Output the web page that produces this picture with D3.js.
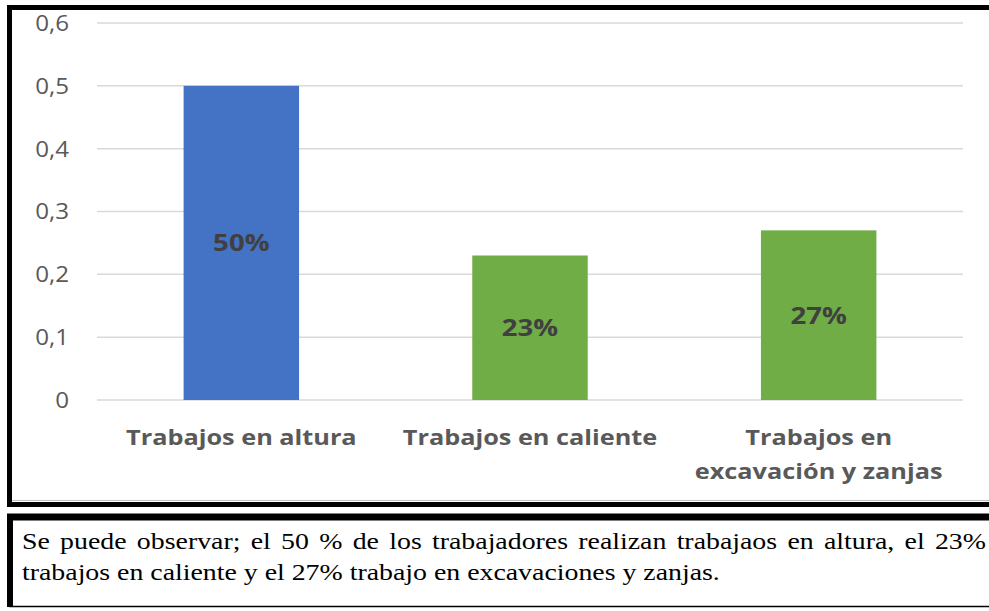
<!DOCTYPE html>
<html><head><meta charset="utf-8">
<script src="https://cdn.jsdelivr.net/npm/d3@7"></script>
<style>body{margin:0;background:#fff;overflow:hidden}svg{display:block}
.note{font-family:"Liberation Serif","Times New Roman","DejaVu Serif",serif;font-size:24px;fill:#000}</style>
</head><body>
<script>
const categories = [["Trabajos en altura"], ["Trabajos en caliente"], ["Trabajos en", "excavación y zanjas"]];
const values = [0.5, 0.23, 0.27];
const labels = ["50%", "23%", "27%"];
const colors = ["#4472C4", "#70AD47", "#70AD47"];
const yTicks = [0, 0.1, 0.2, 0.3, 0.4, 0.5, 0.6];
const note = ["Se puede observar; el 50 % de los trabajadores realizan trabajaos en altura, el 23%",
              "trabajos en caliente y el 27% trabajo en excavaciones y zanjas."];

const W = 989, H = 611;
const SX = 1.15; // horizontal stretch of the reference picture
const svg = d3.select("body").append("svg").attr("width", W).attr("height", H);

// chart frame
svg.append("rect").attr("x", 9.5).attr("y", 7.5).attr("width", 1000).attr("height", 497)
  .attr("fill", "none").attr("stroke", "#000").attr("stroke-width", 5);
svg.append("line").attr("x1", 12).attr("x2", 1000).attr("y1", 500.5).attr("y2", 500.5).attr("stroke", "#bfbfbf").attr("stroke-width", 1);
// text frame
svg.append("rect").attr("x", 10).attr("y", 516.5).attr("width", 1000).attr("height", 90)
  .attr("fill", "none").attr("stroke", "#000").attr("stroke-width", 1.5);
svg.append("line").attr("x1", 7).attr("x2", 1000).attr("y1", 517).attr("y2", 517).attr("stroke", "#000").attr("stroke-width", 7);
svg.append("line").attr("x1", 10).attr("x2", 10).attr("y1", 514).attr("y2", 607).attr("stroke", "#000").attr("stroke-width", 6);

const x = d3.scaleBand().domain(d3.range(categories.length)).range([97, 963]).paddingInner(0.6).paddingOuter(0.3);
const y = d3.scaleLinear().domain([0, 0.6]).range([400, 23]);

// gridlines
svg.append("g").selectAll("line").data(yTicks).join("line")
  .attr("x1", 97).attr("x2", 963).attr("y1", d => y(d)).attr("y2", d => y(d))
  .attr("stroke", "#d9d9d9").attr("stroke-width", 1.5);

// y axis labels
const fmt = d => d === 0 ? "0" : d3.format(".1f")(d).replace(".", ",");
const yAxis = d3.axisLeft(y).tickValues(yTicks).tickFormat(fmt).tickSize(0).tickPadding(0);
const gy = svg.append("g").attr("transform", "translate(69,0)").call(yAxis);
gy.select(".domain").remove();
gy.selectAll(".tick").each(function(d) {
  d3.select(this).select("text").attr("x", 0).attr("y", 0)
    .attr("transform", `scale(${SX},1)`)
    .attr("font-family", "Open Sans, sans-serif").attr("font-size", 21)
    .attr("fill", "#595959").attr("dy", "0.35em");
});

// bars
svg.append("g").selectAll("rect").data(values).join("rect")
  .attr("x", (d, i) => x(i)).attr("width", x.bandwidth())
  .attr("y", d => y(d)).attr("height", d => y(0) - y(d))
  .attr("fill", (d, i) => colors[i]);

// data labels
svg.append("g").selectAll("text").data(values).join("text")
  .attr("transform", (d, i) => `translate(${x(i) + x.bandwidth() / 2},${(y(d) + y(0)) / 2}) scale(${SX},1)`)
  .attr("dy", "0.35em").attr("text-anchor", "middle")
  .attr("font-family", "Open Sans, sans-serif").attr("font-weight", "bold").attr("font-size", 24)
  .attr("fill", "#404040")
  .text((d, i) => labels[i]);

// category labels
const gc = svg.append("g");
categories.forEach((lines, i) => {
  const t = gc.append("text")
    .attr("transform", `translate(${x(i) + x.bandwidth() / 2},437) scale(${SX},1)`)
    .attr("text-anchor", "middle")
    .attr("font-family", "Open Sans, sans-serif").attr("font-weight", "bold").attr("font-size", 22)
    .attr("fill", "#595959");
  lines.forEach((l, j) => t.append("tspan").attr("x", 0).attr("y", j * 34).attr("dy", "0.35em").text(l));
});

// note text
const SXN = 1.16;
const l1 = svg.append("text").attr("class", "note").attr("transform", `translate(22,549) scale(${SXN},1)`)
  .text(note[0]);
const nat = l1.node().getComputedTextLength();
const gaps = note[0].split(" ").length - 1;
const target = (986 - 22) / SXN;
l1.attr("word-spacing", ((target - nat) / gaps).toFixed(2) + "px");
svg.append("text").attr("class", "note").attr("transform", `translate(22,580) scale(${SXN},1)`)
  .text(note[1]);
</script>
</body></html>
